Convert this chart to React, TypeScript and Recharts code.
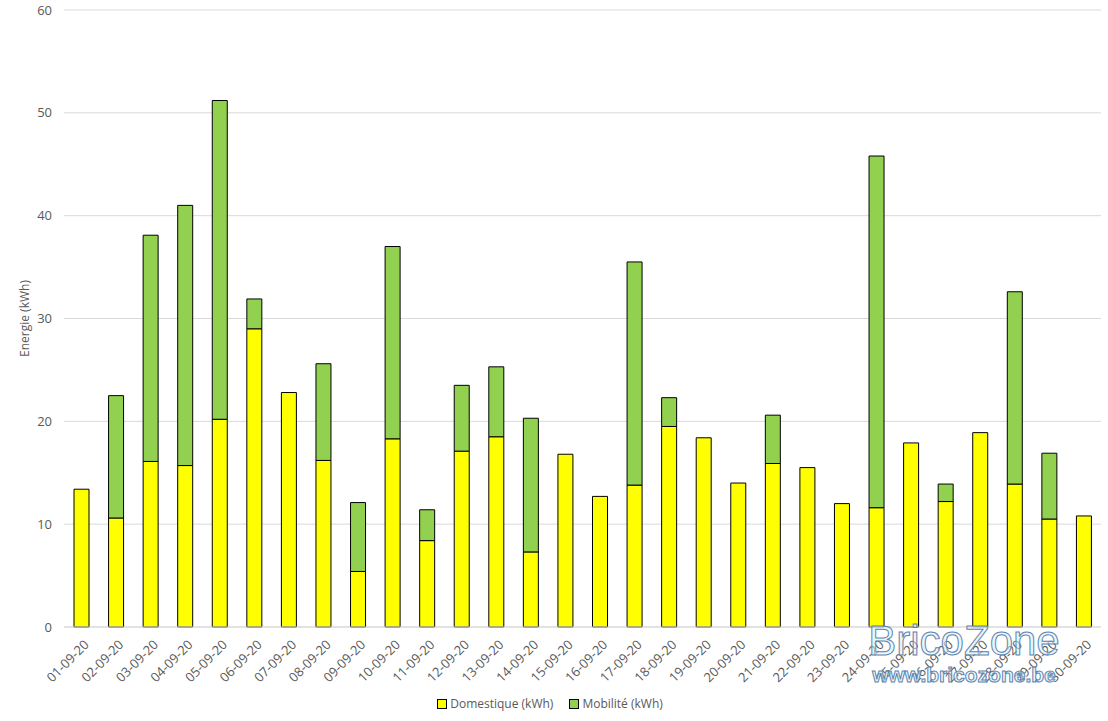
import React from 'react';
import { BarChart, Bar, XAxis, YAxis, CartesianGrid } from 'recharts';

const days = [
  '01-09-20', '02-09-20', '03-09-20', '04-09-20', '05-09-20', '06-09-20', '07-09-20', '08-09-20', '09-09-20', '10-09-20',
  '11-09-20', '12-09-20', '13-09-20', '14-09-20', '15-09-20', '16-09-20', '17-09-20', '18-09-20', '19-09-20', '20-09-20',
  '21-09-20', '22-09-20', '23-09-20', '24-09-20', '25-09-20', '26-09-20', '27-09-20', '28-09-20', '29-09-20', '30-09-20',
];

const domestique = [
  13.4, 10.6, 16.1, 15.7, 20.2, 29.0, 22.8, 16.2, 5.4, 18.3,
  8.4, 17.1, 18.5, 7.3, 16.8, 12.7, 13.8, 19.5, 18.4, 14.0,
  15.9, 15.5, 12.0, 11.6, 17.9, 12.2, 18.9, 13.9, 10.5, 10.8,
];

const mobilite = [
  0, 11.9, 22.0, 25.3, 31.0, 2.9, 0, 9.4, 6.7, 18.7,
  3.0, 6.4, 6.8, 13.0, 0, 0, 21.7, 2.8, 0, 0,
  4.7, 0, 0, 34.2, 0, 1.7, 0, 18.7, 6.4, 0,
];

const yTicks = [0, 10, 20, 30, 40, 50, 60];

const data = days.map((d, i) => ({ day: d, domestique: domestique[i], mobilite: mobilite[i] }));

const FONT = '"Open Sans", "Noto Sans", sans-serif';

function DayTick(props: any) {
  const { x, y, payload } = props;
  return (
    <text
      x={x + 5}
      y={y + 7}
      transform={`rotate(-45, ${x + 5}, ${y + 7})`}
      textAnchor="end"
      dominantBaseline="central"
      fontSize={13}
      fill="#595959"
      fontFamily={FONT}
    >
      {payload.value}
    </text>
  );
}

function LegendBox({ color, label }: { color: string; label: string }) {
  return (
    <span style={{ display: 'inline-flex', alignItems: 'center', marginRight: 16 }}>
      <span style={{ width: 8, height: 8, background: color, border: '1px solid #000', marginRight: 3 }} />
      <span>{label}</span>
    </span>
  );
}

export default function App() {
  return (
    <div style={{ position: 'absolute', left: 0, top: 0, width: 1108, height: 721, background: '#fff', fontFamily: FONT }}>
      <BarChart
        width={1108}
        height={721}
        data={data}
        margin={{ top: 10, right: 7, bottom: 0, left: 0 }}
        barSize={15}
      >
        <CartesianGrid vertical={false} stroke="#d9d9d9" />
        <XAxis
          dataKey="day"
          interval={0}
          tick={<DayTick />}
          tickLine={false}
          axisLine={{ stroke: '#d9d9d9' }}
          height={94}
        />
        <YAxis
          domain={[0, 60]}
          ticks={yTicks}
          width={64}
          tickLine={false}
          axisLine={false}
          tickMargin={6}
          tick={{ fontSize: 13, fill: '#595959', fontFamily: FONT }}
          label={{
            value: 'Energie (kWh)',
            angle: -90,
            position: 'insideLeft',
            dx: 20,
            style: { fontSize: 12, fill: '#595959', fontFamily: FONT, textAnchor: 'middle' },
          }}
        />
        <Bar dataKey="domestique" stackId="a" fill="#ffff00" stroke="#000" strokeWidth={1} isAnimationActive={false} />
        <Bar dataKey="mobilite" stackId="a" fill="#92d050" stroke="#000" strokeWidth={1} isAnimationActive={false} />
      </BarChart>
      <div
        style={{
          position: 'absolute',
          top: 695,
          left: 4,
          width: 1108,
          textAlign: 'center',
          fontSize: 12,
          color: '#595959',
        }}
      >
        <LegendBox color="#ffff00" label="Domestique (kWh)" />
        <LegendBox color="#92d050" label="Mobilité (kWh)" />
      </div>
      <div
        style={{
          position: 'absolute',
          left: 866,
          top: 620,
          width: 196,
          textAlign: 'center',
          color: 'rgba(225,235,245,0.55)',
          WebkitTextStroke: '1px #5a86b0',
          fontFamily: '"Liberation Sans", Arial, sans-serif',
          lineHeight: 1,
          pointerEvents: 'none',
        }}
      >
        <div style={{ fontSize: 42 }}>BricoZone</div>
        <div style={{ fontSize: 21, fontWeight: 'bold', marginTop: 2 }}>www.bricozone.be</div>
      </div>
    </div>
  );
}
